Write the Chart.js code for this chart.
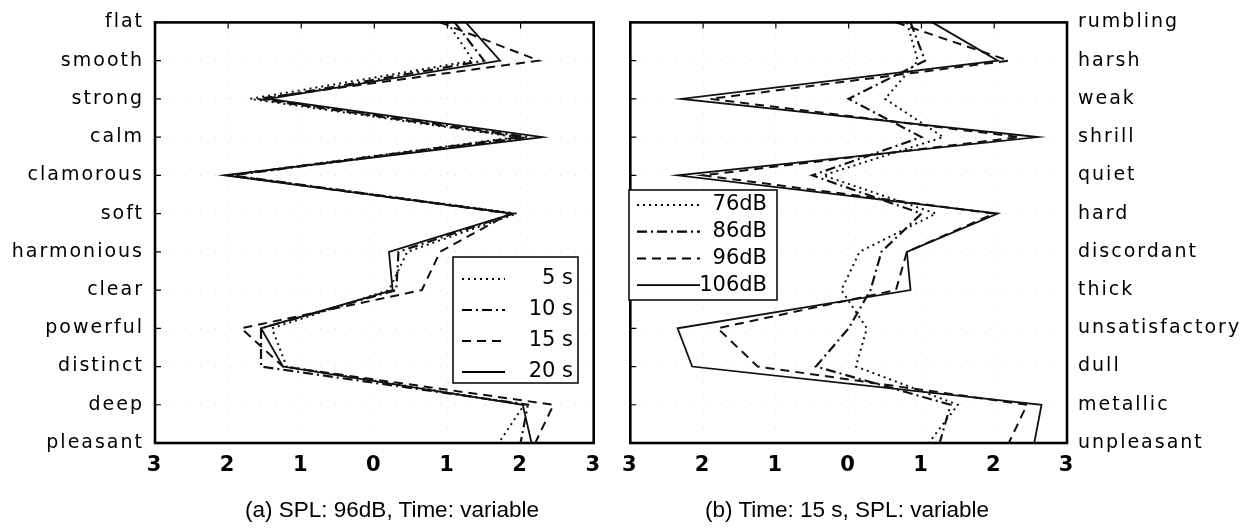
<!DOCTYPE html>
<html>
<head>
<meta charset="utf-8">
<script src="https://cdn.jsdelivr.net/npm/chart.js@4/dist/chart.umd.min.js"></script>
<style>
    body { margin: 0; background: #fff; }
    #wrap { position: relative; width: 1245px; height: 531px; overflow: hidden; }
    canvas { position: absolute; top: 0; }
    #leftChart { left: 0; }
    #rightChart { left: 612px; }
    .caption { position: absolute; top: 497px; height: 26px; line-height: 26px; width: 420px;
               font: 22.5px "Liberation Sans", Arial, sans-serif; color: #000; text-align: center; }
</style>
</head>
<body>
<div id="wrap">
    <canvas id="leftChart" width="612" height="531"></canvas>
    <canvas id="rightChart" width="633" height="531"></canvas>
    <div class="caption" style="left:182px">(a) SPL: 96dB, Time: variable</div>
    <div class="caption" style="left:637px">(b) Time: 15 s, SPL: variable</div>
</div>
<script>
// adjective pairs (left side word = negative end of the scale)
const leftWords = ['flat', 'smooth', 'strong', 'calm', 'clamorous', 'soft', 'harmonious',
                   'clear', 'powerful', 'distinct', 'deep', 'pleasant'];
const rightWords = ['rumbling', 'harsh', 'weak', 'shrill', 'quiet', 'hard', 'discordant',
                    'thick', 'unsatisfactory', 'dull', 'metallic', 'unpleasant'];

const xTickValues = [-3, -2, -1, 0, 1, 2, 3];

// (a) SPL 96dB, duration varied
const timeNames = ['5 s', '10 s', '15 s', '20 s'];
const time5s  = [1.0, 1.35, -1.7, 1.95, -2.0, 1.95, 0.45, 0.2, -1.4, -1.2, 2.05, 1.7];
const time10s = [1.1, 1.5, -1.5, 2.1, -1.95, 1.9, 0.33, 0.3, -1.55, -1.55, 2.1, 2.0];
const time15s = [0.9, 2.25, -1.6, 2.0, -2.0, 1.85, 0.9, 0.65, -1.82, -1.25, 2.45, 2.2];
const time20s = [1.25, 1.72, -1.45, 2.3, -2.05, 1.9, 0.2, 0.25, -1.55, -1.25, 2.03, 2.15];

// (b) duration 15 s, SPL varied
const splNames = ['76dB', '86dB', '96dB', '106dB'];
const spl76  = [0.8, 0.95, 0.5, 1.3, -0.35, 1.2, 0.15, -0.1, 0.25, 0.1, 1.5, 1.1];
const spl86  = [0.85, 1.05, 0.0, 1.0, -0.5, 1.0, 0.45, 0.3, 0.0, -0.45, 1.4, 1.25];
const spl96  = [0.65, 2.2, -1.9, 2.35, -2.0, 2.0, 0.8, 0.65, -1.8, -1.25, 2.45, 2.2];
const spl106 = [1.15, 2.05, -2.3, 2.6, -2.35, 2.05, 0.8, 0.85, -2.35, -2.15, 2.65, 2.55];

// line looks: dotted, dash-dot, dashed, solid
const lineLooks = [
    { dash: [2, 4], width: 2 },
    { dash: [10, 4, 2, 4], width: 2.2 },
    { dash: [9, 6], width: 2 },
    { dash: [], width: 1.8 }
];

const LABEL_SPACING = '2px';

const framePlugin = {
    id: 'frame',
    beforeLayout(chart) { chart.ctx.letterSpacing = LABEL_SPACING; },
    beforeDraw(chart) { chart.ctx.letterSpacing = LABEL_SPACING; },
    afterDatasetsDraw(chart) {
        const { ctx, chartArea: a, scales } = chart;
        ctx.save();
        ctx.strokeStyle = '#000';
        ctx.lineWidth = 1.2;
        ctx.beginPath();
        scales.y.ticks.forEach((t, i) => {
            const y = scales.y.getPixelForTick(i);
            ctx.moveTo(a.left, y);
            ctx.lineTo(a.left + 6, y);
        });
        scales.x.ticks.forEach((t, i) => {
            const x = scales.x.getPixelForTick(i);
            ctx.moveTo(x, a.top);
            ctx.lineTo(x, a.top + 6);
        });
        ctx.stroke();
        ctx.lineWidth = 2.6;
        ctx.strokeRect(a.left, a.top, a.right - a.left, a.bottom - a.top);
        ctx.restore();
    }
};

const boxLegend = {
    id: 'boxLegend',
    afterDraw(chart, args, opts) {
        const ctx = chart.ctx;
        ctx.save();
        ctx.letterSpacing = '0px';
        ctx.fillStyle = '#fff';
        ctx.fillRect(opts.left, opts.top, opts.width, opts.height);
        ctx.strokeStyle = '#000';
        ctx.lineWidth = 1.5;
        ctx.strokeRect(opts.left, opts.top, opts.width, opts.height);
        chart.data.datasets.forEach((ds, i) => {
            const y = opts.firstY + i * opts.step;
            ctx.setLineDash(ds.borderDash);
            ctx.lineWidth = ds.borderWidth;
            ctx.beginPath();
            ctx.moveTo(opts.lineX0, y);
            ctx.lineTo(opts.lineX1, y);
            ctx.stroke();
            ctx.setLineDash([]);
            ctx.font = '21px "DejaVu Sans"';
            ctx.textAlign = 'right';
            ctx.textBaseline = 'middle';
            ctx.fillStyle = '#000';
            ctx.fillText(ds.label, opts.textX, y);
        });
        ctx.restore();
    }
};

function makePanel(canvasId, words, names, series, side, legendOpts) {
    const datasets = series.map((values, i) => ({
        label: names[i],
        data: values,
        borderColor: '#111',
        borderWidth: lineLooks[i].width,
        borderDash: lineLooks[i].dash,
        pointRadius: 0,
        tension: 0,
        fill: false
    }));

    return new Chart(document.getElementById(canvasId), {
        type: 'line',
        data: { labels: words, datasets: datasets },
        plugins: [framePlugin, boxLegend],
        options: {
            responsive: false,
            animation: false,
            indexAxis: 'y',
            layout: {
                padding: side === 'left'
                    ? { top: 15, right: 12, bottom: 0, left: 0 }
                    : { top: 15, right: 0, bottom: 0, left: 13 }
            },
            scales: {
                x: {
                    type: 'linear',
                    min: -3,
                    max: 3,
                    afterBuildTicks: (axis) => { axis.ticks = xTickValues.map(v => ({ value: v })); },
                    afterFit: (axis) => { axis.height = 88; },
                    ticks: {
                        callback: (v) => Math.abs(v),
                        color: '#000',
                        padding: 10,
                        maxRotation: 0,
                        font: { family: 'DejaVu Sans', size: 21, weight: 'bold' }
                    },
                    grid: { color: 'rgba(0,0,0,0.15)', drawTicks: false },
                    border: { display: false, dash: [1, 14] }
                },
                y: {
                    type: 'category',
                    position: side,
                    offset: false,
                    afterFit: (axis) => { axis.width = side === 'left' ? 155 : 178; },
                    ticks: {
                        color: '#000',
                        padding: side === 'left' ? 11 : 11,
                        autoSkip: false,
                        font: { family: 'DejaVu Sans', size: 19 }
                    },
                    grid: { color: 'rgba(0,0,0,0.15)', drawTicks: false },
                    border: { display: false, dash: [1, 14] }
                }
            },
            plugins: {
                legend: { display: false },
                tooltip: { enabled: false },
                boxLegend: legendOpts
            }
        }
    });
}

document.addEventListener('DOMContentLoaded', () => {
    makePanel('leftChart', leftWords, timeNames, [time5s, time10s, time15s, time20s], 'left', {
        left: 453, top: 257, width: 125, height: 126,
        firstY: 279, step: 31, lineX0: 462, lineX1: 505, textX: 573
    });
    makePanel('rightChart', rightWords, splNames, [spl76, spl86, spl96, spl106], 'right', {
        left: 17, top: 190, width: 148, height: 110,
        firstY: 205, step: 26.7, lineX0: 25, lineX1: 88, textX: 155
    });
});
</script>
</body>
</html>
